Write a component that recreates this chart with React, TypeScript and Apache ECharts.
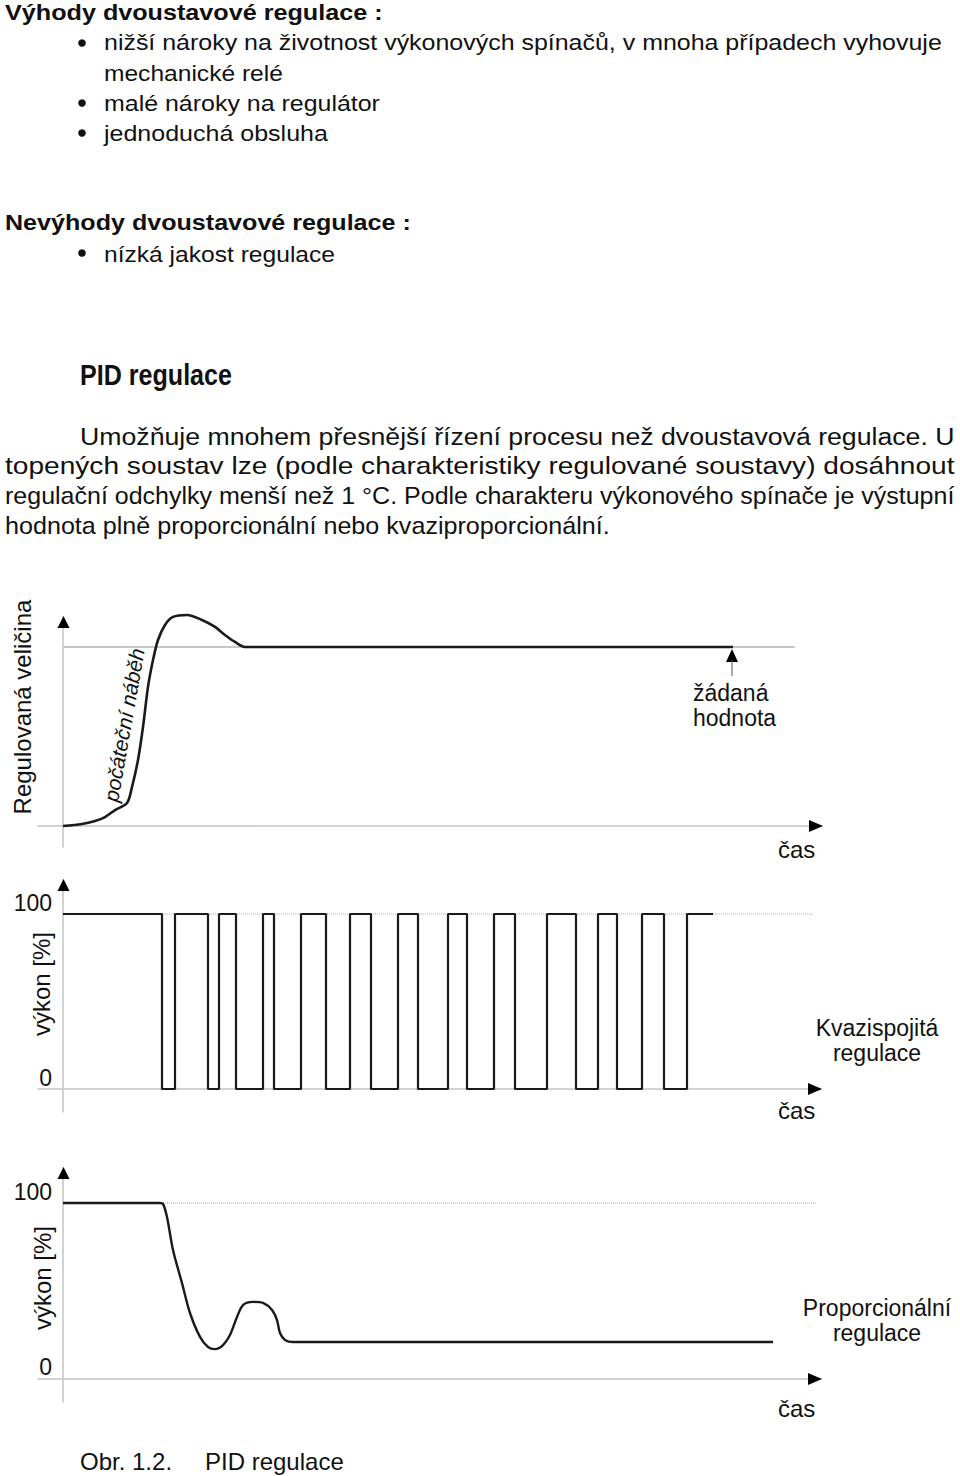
import React, { useEffect, useRef } from 'react';
import * as echarts from 'echarts';

// ---------- DATA ----------
// Chart 1: controlled variable (Regulovaná veličina) vs time
const responseT = [0, 19, 32, 42, 52, 64, 69, 75, 80, 85, 90, 95, 102, 110, 124, 139, 152, 162, 172, 182, 192, 670];
const responseV = [0, 1.1, 2.8, 5.0, 8.9, 12.8, 21.8, 36.9, 55.3, 77.7, 92.7, 103.9, 112.3, 116.8, 117.9, 115.1, 111.2, 106.7, 102.8, 100, 100, 100];
const setpoint1T = [0, 732];
const setpoint1V = [100, 100];

// Chart 2: quasi-continuous control output (výkon [%])
const pulseT = [0, 99, 112, 145, 156, 173, 200, 211, 238, 263, 287, 308, 335, 355, 385, 404, 431, 452, 484, 513, 535, 554, 579, 601, 624, 650];
const pulseV = [100, 0, 100, 0, 100, 0, 100, 0, 100, 0, 100, 0, 100, 0, 100, 0, 100, 0, 100, 0, 100, 0, 100, 0, 100, 100];
const ref2T = [0, 750];
const ref2V = [100, 100];

// Chart 3: proportional control output (výkon [%])
const propT = [0, 97, 100, 104, 110, 119, 127, 137, 145, 152, 160, 167, 174, 180, 190, 200, 209, 214, 217, 222, 230, 240, 710];
const propV = [100, 100, 99.5, 92, 73.3, 54.5, 37.5, 23.9, 18.2, 17, 19.3, 25, 35.2, 42, 43.8, 43.2, 39.2, 33.5, 26.1, 22.2, 21, 21, 21];
const ref3T = [0, 754];
const ref3V = [100, 100];

const yTickValues = [0, 100];

// ---------- TEXT ----------
const FONT = '"Liberation Sans", Arial, Helvetica, sans-serif';

type TextLine = {
  text: string; x: number; y: number; size: number; bold?: boolean; italic?: boolean;
  width?: number; align?: 'left' | 'center' | 'right'; rotate?: number; lineHeight?: number;
};

const textLines: TextLine[] = [
  { text: 'Výhody dvoustavové regulace :', x: 5, y: 13, size: 22, bold: true, width: 378 },
  { text: 'nižší nároky na životnost výkonových spínačů, v mnoha případech vyhovuje', x: 104, y: 43, size: 22, width: 838 },
  { text: 'mechanické relé', x: 104, y: 73, size: 22, width: 179 },
  { text: 'malé nároky na regulátor', x: 104, y: 104, size: 22, width: 276 },
  { text: 'jednoduchá obsluha', x: 104, y: 134, size: 22, width: 224 },
  { text: 'Nevýhody dvoustavové regulace :', x: 5, y: 223, size: 22, bold: true, width: 406 },
  { text: 'nízká jakost regulace', x: 104, y: 254, size: 22, width: 231 },
  { text: 'PID regulace', x: 80, y: 375, size: 29, bold: true, width: 152 },
  { text: 'Umožňuje mnohem přesnější řízení procesu než dvoustavová regulace. U', x: 80, y: 436, size: 24, width: 875 },
  { text: 'topených soustav lze (podle charakteristiky regulované soustavy) dosáhnout', x: 5, y: 466, size: 24, width: 950 },
  { text: 'regulační odchylky menší než 1 °C. Podle charakteru výkonového spínače je výstupní', x: 5, y: 496, size: 24, width: 950 },
  { text: 'hodnota plně proporcionální nebo kvaziproporcionální.', x: 5, y: 526, size: 24, width: 605 },
  // chart 1
  { text: 'Regulovaná veličina', x: 22, y: 707, size: 24, align: 'center', rotate: 90 },
  { text: 'počáteční náběh', x: 124, y: 725, size: 21, italic: true, align: 'center', rotate: 80 },
  { text: 'žádaná\nhodnota', x: 693, y: 705, size: 23, lineHeight: 25 },
  { text: 'čas', x: 778, y: 849, size: 24 },
  // chart 2
  { text: 'výkon [%]', x: 41, y: 984, size: 24, align: 'center', rotate: 90 },
  { text: 'Kvazispojitá\nregulace', x: 877, y: 1040, size: 23, align: 'center', lineHeight: 25 },
  { text: 'čas', x: 778, y: 1110, size: 24 },
  // chart 3
  { text: 'výkon [%]', x: 42, y: 1278, size: 24, align: 'center', rotate: 90 },
  { text: 'Proporcionální\nregulace', x: 877, y: 1320, size: 23, align: 'center', lineHeight: 25 },
  { text: 'čas', x: 778, y: 1408, size: 24 },
  { text: 'Obr. 1.2.', x: 80, y: 1461, size: 24 },
  { text: 'PID regulace', x: 205, y: 1461, size: 24 },
];

const bulletYs = [43, 103, 133, 253];

const zip = (a: number[], b: number[]) => a.map((v, i) => [v, b[i]]);

const BLACK = '#1a1a1a';
const AXIS_GREY = '#c4c4c4';

function makeAxes(gridIndex: number, xMax: number, yMin: number, yMax: number, labels: boolean) {
  const axisLine = { show: true, onZero: true, lineStyle: { color: AXIS_GREY, width: 1.5 } };
  return {
    x: {
      gridIndex, type: 'value', min: -25, max: xMax,
      axisLine, axisTick: { show: false }, axisLabel: { show: false }, splitLine: { show: false },
    },
    y: {
      gridIndex, type: 'value', min: yMin, max: yMax,
      axisLine, axisTick: { show: false }, splitLine: { show: false },
      axisLabel: labels
        ? {
            show: true, customValues: yTickValues, margin: -14, verticalAlign: 'bottom',
            color: '#111', fontSize: 23, fontFamily: FONT,
          }
        : { show: false },
    },
  };
}

export default function App() {
  const ref = useRef<HTMLDivElement>(null);

  useEffect(() => {
    if (!ref.current) return;
    const chart = echarts.init(ref.current, undefined, { renderer: 'svg' });

    const canvas = document.createElement('canvas');
    const ctx = canvas.getContext('2d')!;
    const measure = (l: TextLine) => {
      ctx.font = `${l.italic ? 'italic ' : ''}${l.bold ? 'bold ' : ''}${l.size}px ${FONT}`;
      return ctx.measureText(l.text).width;
    };

    const a1 = makeAxes(0, 759, -11.73, 116.76, false);
    const a2 = makeAxes(1, 758, -13.14, 119.43, true);
    const a3 = makeAxes(2, 758, -13.07, 119.89, true);

    const textEls = textLines.map((l) => {
      const sx = l.width ? l.width / measure(l) : 1;
      return {
        type: 'text',
        x: l.x, y: l.y,
        scaleX: sx,
        rotation: l.rotate ? (l.rotate * Math.PI) / 180 : 0,
        z: 10,
        style: {
          text: l.text, fill: '#111',
          fontSize: l.size, fontFamily: FONT,
          fontWeight: l.bold ? 'bold' : 'normal',
          fontStyle: l.italic ? 'italic' : 'normal',
          lineHeight: l.lineHeight,
          textAlign: l.align || 'left', align: l.align || 'left',
          textVerticalAlign: 'middle', verticalAlign: 'middle',
        },
      };
    });

    const bulletEls = bulletYs.map((y) => ({
      type: 'circle', shape: { cx: 82, cy: y, r: 3.8 }, style: { fill: '#111' }, z: 10,
    }));

    const tri = (pts: number[][]) => ({ type: 'polygon', shape: { points: pts }, style: { fill: '#000' }, z: 10 });
    const arrowEls = [
      // chart 1
      tri([[63.5, 616], [57.5, 628], [69.5, 628]]),
      tri([[823, 826], [809, 820], [809, 832]]),
      // chart 2
      tri([[63.5, 879], [57.5, 891], [69.5, 891]]),
      tri([[822, 1089], [808, 1083], [808, 1095]]),
      // chart 3
      tri([[63.5, 1167], [57.5, 1179], [69.5, 1179]]),
      tri([[822, 1379], [808, 1373], [808, 1385]]),
      // setpoint marker
      tri([[732, 649], [726, 662], [738, 662]]),
      { type: 'line', shape: { x1: 732, y1: 660, x2: 732, y2: 676 }, style: { stroke: '#555', lineWidth: 1 }, z: 10 },
    ];

    chart.setOption({
      animation: false,
      backgroundColor: '#fff',
      grid: [
        { left: 38, top: 617, width: 784, height: 230, outerBoundsMode: 'none', containLabel: false },
        { left: 38, top: 880, width: 783, height: 232, outerBoundsMode: 'none', containLabel: false },
        { left: 38, top: 1168, width: 783, height: 234, outerBoundsMode: 'none', containLabel: false },
      ],
      xAxis: [a1.x, a2.x, a3.x],
      yAxis: [a1.y, a2.y, a3.y],
      series: [
        {
          type: 'line', xAxisIndex: 0, yAxisIndex: 0, data: zip(setpoint1T, setpoint1V),
          symbol: 'none', lineStyle: { color: '#c8c8c8', width: 2 }, z: 1, silent: true,
        },
        {
          type: 'line', xAxisIndex: 0, yAxisIndex: 0, data: zip(responseT, responseV),
          symbol: 'none', smooth: 0.3, clip: false, lineStyle: { color: BLACK, width: 2.6 }, z: 3,
        },
        {
          type: 'line', xAxisIndex: 1, yAxisIndex: 1, data: zip(ref2T, ref2V),
          symbol: 'none', lineStyle: { color: '#aaa', width: 1, type: 'dotted' }, z: 1, silent: true,
        },
        {
          type: 'line', xAxisIndex: 1, yAxisIndex: 1, data: zip(pulseT, pulseV), step: 'end',
          symbol: 'none', clip: false, lineStyle: { color: BLACK, width: 2.2 }, z: 3,
        },
        {
          type: 'line', xAxisIndex: 2, yAxisIndex: 2, data: zip(ref3T, ref3V),
          symbol: 'none', lineStyle: { color: '#aaa', width: 1, type: 'dotted' }, z: 1, silent: true,
        },
        {
          type: 'line', xAxisIndex: 2, yAxisIndex: 2, data: zip(propT, propV),
          symbol: 'none', smooth: 0.3, clip: false, lineStyle: { color: BLACK, width: 2.4 }, z: 3,
        },
      ],
      graphic: { elements: [...textEls, ...bulletEls, ...arrowEls] },
    });

    return () => chart.dispose();
  }, []);

  return (
    <div
      ref={ref}
      style={{ position: 'absolute', left: 0, top: 0, width: 960, height: 1476, background: '#fff' }}
    />
  );
}
